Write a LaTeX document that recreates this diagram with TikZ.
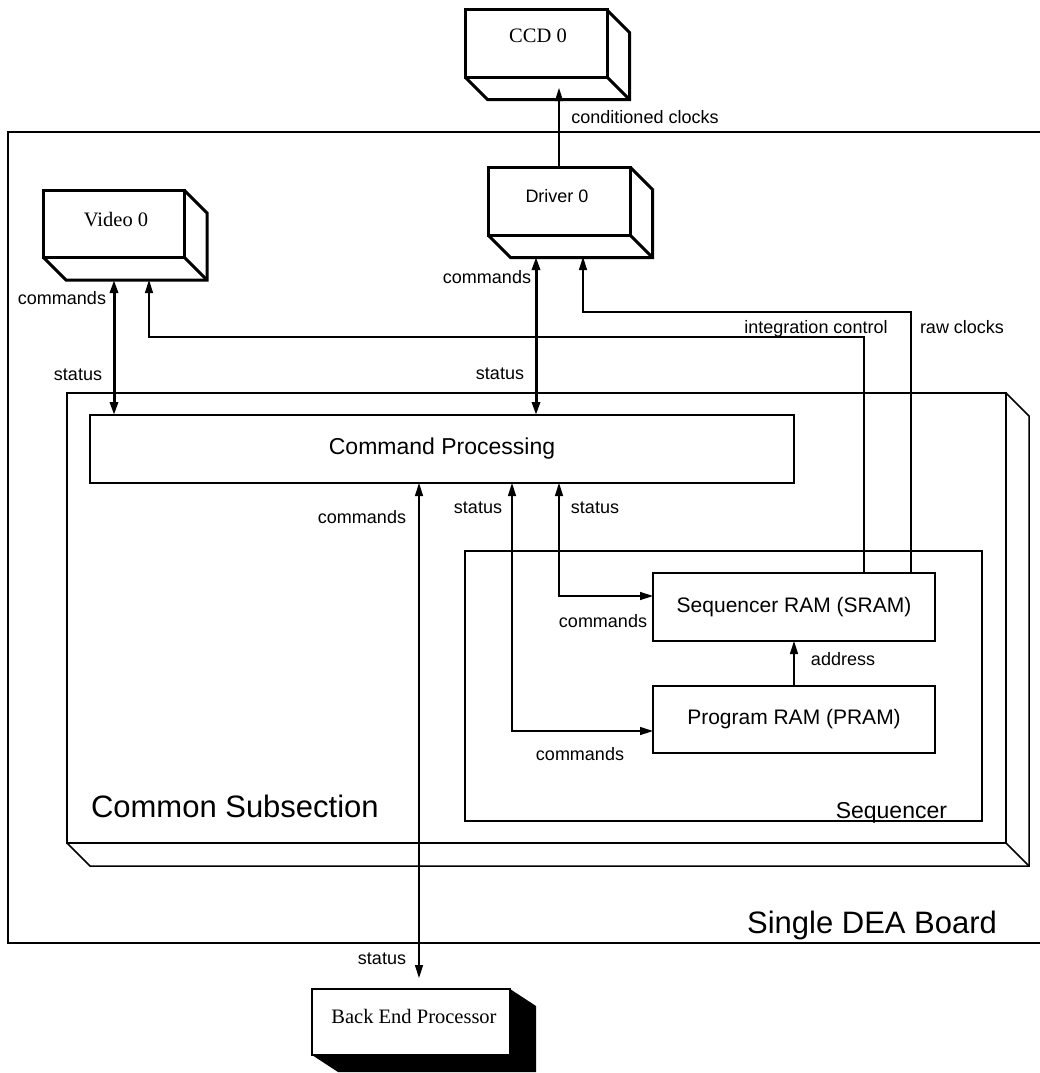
\documentclass[tikz,border=0pt]{standalone}
\usepackage{fontspec}
\setmainfont{Liberation Sans}
\newfontfamily\seriffont{Liberation Serif}
\usetikzlibrary{arrows.meta,calc}
\newcommand\mydepth[3]{% node, offset, style
  \draw[#3] (#1.north east) -- ++(#2,#2) |- ($(#1.south west)+(#2,#2)$) -- (#1.south west);
  \draw[#3] (#1.south east) -- ++(#2,#2);}
\begin{document}
\begin{tikzpicture}[x=1pt,y=-1pt,
  every node/.style={inner sep=0pt,outer sep=0pt},
  thinbox/.style={draw,line width=1.5pt,fill=none},
  boldbox/.style={draw,line width=3pt,fill=white},
  thinline/.style={line width=1.5pt},
  boldline/.style={line width=3pt},
  tip/.tip={Triangle[length=13pt,width=8pt]},
  arr/.style={line width=1.4pt,-tip},
  dbl/.style={line width=1.4pt,tip-tip},
  dblbold/.style={line width=3pt,tip-tip},
  lbl/.style={font=\fontsize{18}{20}\selectfont,anchor=base},
  slbl/.style={font=\seriffont\fontsize{20.5}{23}\selectfont,anchor=base},
  big/.style={font=\fontsize{31}{35}\selectfont,anchor=base},
  mid/.style={font=\fontsize{23}{26}\selectfont},
  ram/.style={font=\fontsize{21}{24}\selectfont}
]
\useasboundingbox (0,0) rectangle (1040,1073);

% containers
\node[thinbox,minimum width=1042pt,minimum height=811pt] (board) at (529,537.5) {};
\node[thinbox,minimum width=939pt,minimum height=450pt] (common) at (536.5,618) {};
\mydepth{common}{23}{thinline}
\node[thinbox,minimum width=517pt,minimum height=270pt] (seq) at (723.5,686) {};

% boxes
\node[thinbox,line width=1.8pt,mid,minimum width=704pt,minimum height=68pt] (cp) at (442,449) {Command Processing};
\node[thinbox,ram,minimum width=282pt,minimum height=68pt] (sram) at (794,607) {Sequencer RAM (SRAM)};
\node[thinbox,ram,minimum width=282pt,minimum height=67pt] (pram) at (794,719.5) {Program RAM (PRAM)};

\node[boldbox,minimum width=142pt,minimum height=67pt] (ccd) at (536,43.5) {};
\mydepth{ccd}{22.5}{boldline}
\node[boldbox,minimum width=141pt,minimum height=67pt] (video) at (113.5,223.5) {};
\mydepth{video}{23}{boldline}
\node[boldbox,minimum width=142pt,minimum height=68pt] (driver) at (559,201) {};
\mydepth{driver}{22.5}{boldline}

\node[draw,line width=2.2pt,fill=white,minimum width=198pt,minimum height=66pt] (be) at (411,1022) {};
\fill (be.north east) -- ++(26,17) -- ($(be.south east)+(26,17)$) -- ($(be.south west)+(26,17)$) -- (be.south west) -- (be.south east) -- cycle;

% box texts
\node[slbl] (ccdtxt) at (538,43) {CCD 0};
\node[slbl] (videotxt) at (116,226) {Video 0};
\node[lbl] (drivertxt) at (557,202) {Driver 0};
\node[slbl] (betxt) at (414,1023) {Back End Processor};
\node[big,anchor=base west] (commontxt) at (91,817) {Common Subsection};
\node[big,anchor=base east] (boardtxt) at (997,933) {Single DEA Board};
\node[mid,anchor=base east] (seqtxt) at (947,818) {Sequencer};

% connector coordinates
\coordinate (cIn) at (559,88);
\coordinate (vA) at (114,280);
\coordinate (vB) at (149,280);
\coordinate (dA) at (536,257);
\coordinate (dB) at (583,257);
\coordinate (ic) at (864,337);
\coordinate (rc) at (911,312);
\coordinate (beA) at (419,978);
\coordinate (s1) at (512,731);
\coordinate (s2) at (559,596);

% connectors
\draw[arr] (driver.north) -- (cIn);
\draw[dblbold] (vA) -- (vA |- cp.north);
\draw[dblbold] (dA) -- (dA |- cp.north);
\draw[arr] (ic |- sram.north) -- (ic) -| (vB);
\draw[arr] (rc |- sram.north) -- (rc) -| (dB);
\draw[dbl] (beA |- cp.south) -- (beA);
\draw[dbl] (s1 |- cp.south) -- (s1) -- (s1 -| pram.west);
\draw[dbl] (s2 |- cp.south) -- (s2) -- (s2 -| sram.west);
\draw[arr] (pram.north) -- (sram.south);

% labels
\node[lbl] (l1) at (645,123) {conditioned clocks};
\node[lbl] (l2) at (62,304) {commands};
\node[lbl] (l3) at (78,380) {status};
\node[lbl] (l4) at (487,283) {commands};
\node[lbl] (l5) at (500,379) {status};
\node[lbl] (l6) at (816,333) {integration control};
\node[lbl] (l7) at (962,333) {raw clocks};
\node[lbl] (l8) at (362,523) {commands};
\node[lbl] (l9) at (478,513) {status};
\node[lbl] (l10) at (595,513) {status};
\node[lbl] (l11) at (603,627) {commands};
\node[lbl] (l12) at (843,665) {address};
\node[lbl] (l13) at (580,760) {commands};
\node[lbl] (l14) at (382,964) {status};
\end{tikzpicture}
\end{document}
